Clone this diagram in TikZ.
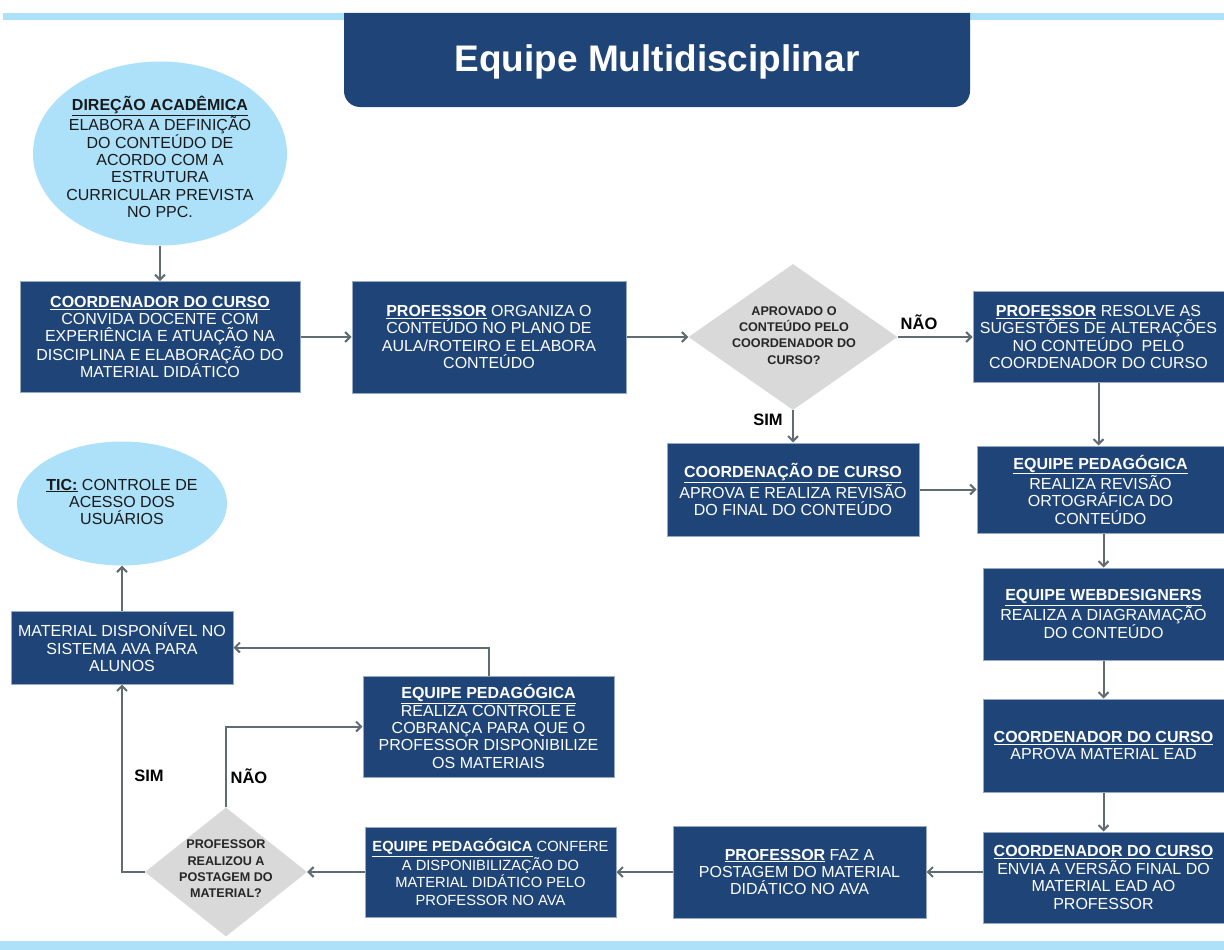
\documentclass[tikz,border=0pt]{standalone}
\usepackage{fontspec}
\setmainfont{Liberation Sans}
\usetikzlibrary{shapes.geometric,arrows.meta}

\definecolor{boxblue}{RGB}{31,69,120}
\definecolor{skyblue}{RGB}{172,225,249}
\definecolor{edgeblue}{RGB}{150,170,196}
\definecolor{linkgray}{RGB}{96,108,112}
\definecolor{diamondgray}{RGB}{217,217,217}

\newcommand{\hd}[1]{\underline{\textbf{#1}}}

\tikzset{
  stepbox/.style={rectangle, fill=boxblue, draw=edgeblue, line width=1, text=white, align=center, inner sep=0, font={\fontsize{16}{17.4}\selectfont}},
  bubble/.style={ellipse, fill=skyblue, inner sep=0},
  bubbletext/.style={align=center, text=black!90, font={\fontsize{16}{17.4}\selectfont}},
  decision/.style={diamond, fill=diamondgray, inner sep=0},
  decisiontext/.style={align=center, text=black!85, font={\fontsize{12.6}{16.3}\selectfont\bfseries}},
  flow/.style={draw=linkgray, line width=2, -{Straight Barb[length=5pt,width=10pt]}},
  answer/.style={text=black, font={\fontsize{16.5}{18}\selectfont\bfseries}}
}

\begin{document}
\begin{tikzpicture}[x=1pt,y=1pt,yscale=-1]
\useasboundingbox (0,0) rectangle (1224,950);

%Shape: Bands
\fill [skyblue] (3,13) rectangle (1224,20);
\fill [skyblue] (0,941) rectangle (1224,950);
%Shape: Title box
\fill [boxblue, rounded corners=16] (344,13) -- (344,107) -- (970,107) -- (970,13);
% Text Node
\node (title) [text=white, font={\fontsize{37}{40}\selectfont\bfseries}] at (657,62) {Equipe Multidisciplinar};

%Shape: Ellipses
\node (dir) [bubble, minimum width=254, minimum height=184] at (160,153.5) {};
\node (dirtext) [bubbletext] at (160,157) {\hd{DIREÇÃO ACADÊMICA}\\ELABORA A DEFINIÇÃO\\DO CONTEÚDO DE\\ACORDO COM A\\ESTRUTURA\\CURRICULAR PREVISTA\\NO PPC.};
\node (tic) [bubble, minimum width=210, minimum height=124] at (122,503.5) {};
\node (tictext) [bubbletext] at (122,502) {\hd{TIC:} CONTROLE DE\\ACESSO DOS\\USUÁRIOS};

%Shape: Diamonds
\node (d1) [decision, minimum width=209, minimum height=146] at (793,337) {};
\node (d1text) [decisiontext] at (794,335.5) {APROVADO O\\CONTEÚDO PELO\\COORDENADOR DO\\CURSO?};
\node (d2) [decision, minimum width=162, minimum height=129] at (226,872) {};
\node (d2text) [decisiontext] at (226,869) {PROFESSOR\\REALIZOU A\\POSTAGEM DO\\MATERIAL?};

%Shape: Boxes
\node (b1) [stepbox, minimum width=280, minimum height=111] at (160,337) {\hd{COORDENADOR DO CURSO}\\CONVIDA DOCENTE COM\\EXPERIÊNCIA E ATUAÇÃO NA\\DISCIPLINA E ELABORAÇÃO DO\\MATERIAL DIDÁTICO};
\node (b2) [stepbox, minimum width=274, minimum height=112] at (489,337) {\hd{PROFESSOR} ORGANIZA O\\CONTEÚDO NO PLANO DE\\AULA/ROTEIRO E ELABORA\\CONTEÚDO};
\node (b3) [stepbox, minimum width=251, minimum height=91] at (1098.5,337) {\hd{PROFESSOR} RESOLVE AS\\SUGESTÕES DE ALTERAÇÕES\\NO CONTEÚDO\ \ PELO\\COORDENADOR DO CURSO};
\node (c) [stepbox, minimum width=252, minimum height=93] at (793,489.5) {\hd{COORDENAÇÃO DE CURSO}\\APROVA E REALIZA REVISÃO\\DO FINAL DO CONTEÚDO};
\node (b4) [stepbox, minimum width=247, minimum height=87] at (1100.5,489.5) {\hd{EQUIPE PEDAGÓGICA}\\REALIZA REVISÃO\\ORTOGRÁFICA DO\\CONTEÚDO};
\node (b5) [stepbox, minimum width=241, minimum height=92] at (1103.5,614) {\hd{EQUIPE WEBDESIGNERS}\\REALIZA A DIAGRAMAÇÃO\\DO CONTEÚDO};
\node (b6) [stepbox, minimum width=241, minimum height=93] at (1103.5,745.5) {\hd{COORDENADOR DO CURSO}\\APROVA MATERIAL EAD};
\node (b7) [stepbox, minimum width=241, minimum height=91] at (1103.5,877.5) {\hd{COORDENADOR DO CURSO}\\ENVIA A VERSÃO FINAL DO\\MATERIAL EAD AO\\PROFESSOR};
\node (b8) [stepbox, minimum width=253, minimum height=92] at (799.5,872) {\hd{PROFESSOR} FAZ A\\POSTAGEM DO MATERIAL\\DIDÁTICO NO AVA};
\node (b9) [stepbox, minimum width=251, minimum height=90, font={\fontsize{14.7}{17.4}\selectfont}] at (490.5,872) {\hd{EQUIPE PEDAGÓGICA} CONFERE\\A DISPONIBILIZAÇÃO DO\\MATERIAL DIDÁTICO PELO\\PROFESSOR NO AVA};
\node (b10) [stepbox, minimum width=251, minimum height=101] at (488.5,726.5) {\hd{EQUIPE PEDAGÓGICA}\\REALIZA CONTROLE E\\COBRANÇA PARA QUE O\\PROFESSOR DISPONIBILIZE\\OS MATERIAIS};
\node (m) [stepbox, minimum width=222, minimum height=73] at (122,647.5) {MATERIAL DISPONÍVEL NO\\SISTEMA AVA PARA\\ALUNOS};

%Straight Lines
\draw [flow] (dir.south) -- (b1.north);
\draw [flow] (b1.east) -- (b2.west);
\draw [flow] (b2.east) -- (d1.west);
\draw [flow] (d1.east) -- (b3.west);
\draw [flow] (d1.south) -- (c.north);
\draw [flow] (b3.south) -- (b3.south |- b4.north);
\draw [flow] (c.east) -- (b4.west);
\draw [flow] (b5.north |- b4.south) -- (b5.north);
\draw [flow] (b5.south) -- (b6.north);
\draw [flow] (b6.south) -- (b7.north);
\draw [flow] (b7.west |- b8.east) -- (b8.east);
\draw [flow] (b8.west) -- (b9.east);
\draw [flow] (b9.west) -- (d2.east);
\draw [flow] (d2.west) -| (m.south);
\draw [flow] (d2.north) |- (b10.west);
\draw [flow] (b10.north) |- (m.east);
\draw [flow] (m.north) -- (tic.south);

% Text Node
\node (no1) [answer] at (919,322) {NÃO};
\node (yes1) [answer] at (768,420) {SIM};
\node (yes2) [answer] at (149,776) {SIM};
\node (no2) [answer] at (249,776) {NÃO};

\end{tikzpicture}
\end{document}
